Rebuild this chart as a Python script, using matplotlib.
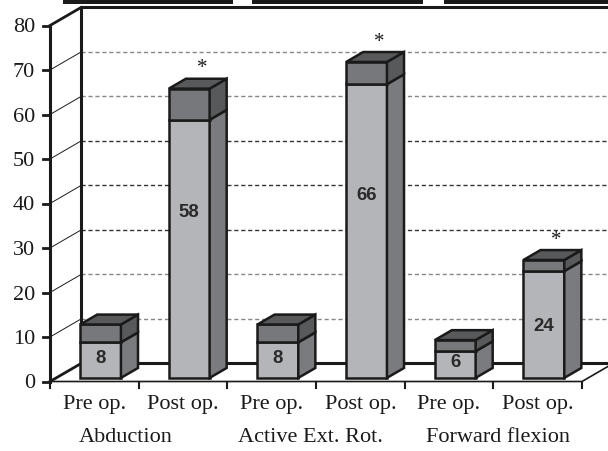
import matplotlib.pyplot as plt
from matplotlib.patches import Polygon, Rectangle

# values read per column: measured value and the darker cap stacked on top
phases = ['Pre op.', 'Post op.', 'Pre op.', 'Post op.', 'Pre op.', 'Post op.']
groups = ['Abduction', 'Active Ext. Rot.', 'Forward flexion']
values = [8, 58, 8, 66, 6, 24]
caps = [4, 7, 4, 5, 2.5, 2.5]
starred = [False, True, False, True, False, True]
yticks = [0, 10, 20, 30, 40, 50, 60, 70, 80]

W, H = 608, 451
X0_PX, CAT_PX = 50, 88.67     # pixel of category 0 and width of one category
Y0_PX, UNIT_PX = 381.5, 4.45  # pixel of value 0 and pixels per unit
DX, DY = 0.35, 4.05           # full depth of the box, in data units
YMAX = 80

LIGHT = '#b4b5b8'
LIGHT_SIDE = '#7a7b7e'
DARK = '#77787b'
DARK_SIDE = '#58595b'
INK = '#1a1a1a'
SERIF = 'Liberation Serif'
# the printed gridlines come out darker in the middle of the wall
grid_color = {10: '#888888', 20: '#888888', 30: '#333333', 40: '#333333',
              50: '#333333', 60: '#888888', 70: '#888888'}
# label height inside each column, as a share of its value
label_pos = [0.55, 0.64, 0.55, 0.62, 0.56, 0.48]


def proj(x, y, d):
    return (x + DX * d, y + DY * d)


def line(ax, pts, **kw):
    xs = [p[0] for p in pts]
    ys = [p[1] for p in pts]
    ax.plot(xs, ys, solid_capstyle='projecting', **kw)


def face(ax, pts, color, z):
    ax.add_patch(Polygon(pts, closed=True, facecolor=color, edgecolor=INK,
                         linewidth=1.8, joinstyle='miter', zorder=z))


def bar(ax, i, base, cap, z):
    x0, x1 = i + 0.5 - 0.23, i + 0.5 + 0.23
    d0, d1 = 0.2, 0.75
    segs = [(0, base, LIGHT, LIGHT_SIDE), (base, base + cap, DARK, DARK_SIDE)]
    for y0, y1, front, side in segs:
        face(ax, [proj(x0, y0, d0), proj(x1, y0, d0), proj(x1, y1, d0), proj(x0, y1, d0)], front, z)
        face(ax, [proj(x1, y0, d0), proj(x1, y0, d1), proj(x1, y1, d1), proj(x1, y1, d0)], side, z)
    top = base + cap
    face(ax, [proj(x0, top, d0), proj(x1, top, d0), proj(x1, top, d1), proj(x0, top, d1)], DARK_SIDE, z)
    cx, cy = proj(i + 0.5, base * label_pos[i], d0)
    ax.text(cx, cy, str(base), ha='center', va='center', fontsize=13.4,
            fontweight='bold', family='Liberation Sans', color='#2a2a2a', zorder=z + 1)
    return proj(i + 0.5, top, d1)


fig = plt.figure(figsize=(W / 100, H / 100), dpi=100)
ax = fig.add_axes([0, 0, 1, 1])
ax.set_xlim(-X0_PX / CAT_PX, (W - X0_PX) / CAT_PX)
ax.set_ylim((Y0_PX - H) / UNIT_PX, Y0_PX / UNIT_PX)
ax.axis('off')

xend = (W - X0_PX) / CAT_PX + 0.1

# back wall gridlines and the side wall diagonals
for v in yticks[1:-1]:
    line(ax, [proj(0, v, 1), proj(xend, v, 1)], color=grid_color[v], lw=1.0,
         dashes=(3, 2), zorder=1)
    line(ax, [proj(0, v, 0), proj(0, v, 1)], color=INK, lw=0.7, zorder=1)

# box edges
line(ax, [proj(0, 0, 1), proj(0, YMAX, 1), proj(xend, YMAX, 1)], color=INK, lw=2.2, zorder=2)
line(ax, [proj(0, 0, 1), proj(xend, 0, 1)], color=INK, lw=2.2, zorder=2)
line(ax, [proj(0, YMAX, 0), proj(0, YMAX, 1)], color=INK, lw=2.0, zorder=2)
line(ax, [proj(0, 0, 0), proj(0, 0, 1)], color=INK, lw=2.0, zorder=2)
line(ax, [proj(0, 0, 0), proj(0, YMAX, 0)], color=INK, lw=2.2, zorder=6)
line(ax, [proj(0, 0, 0), proj(6, 0, 0), proj(6, 0, 1)], color=INK, lw=1.2, zorder=2)

# y axis ticks and labels
for v in yticks:
    ax.plot([0, -7 / CAT_PX], [v, v], color=INK, lw=2.0, zorder=6)
    ax.text(-15 / CAT_PX, v, str(v), ha='right', va='center_baseline', fontsize=16,
            family=SERIF, color=INK)

# category ticks and labels
for i in range(len(phases) + 1):
    ax.plot([i, i], [0, -6 / UNIT_PX], color=INK, lw=1.5)
for i, p in enumerate(phases):
    ax.text(i + 0.5, -27 / UNIT_PX, p, ha='center', va='baseline', fontsize=16,
            family=SERIF, color=INK)
group_x = [0.85, 2.94, 5.05]
for gx, g in zip(group_x, groups):
    ax.text(gx, -60.5 / UNIT_PX, g, ha='center', va='baseline', fontsize=16,
            family=SERIF, color=INK)

# columns
for i in range(len(values)):
    tx, ty = bar(ax, i, values[i], caps[i], 3 + i)
    if starred[i]:
        ax.text(tx - 0.05, ty + 0.1, '*', ha='center', va='bottom', fontsize=15,
                family=SERIF, color=INK, zorder=10)

# strip of the header boxes cut by the top edge
for x0, x1 in [(63, 233), (252, 423), (444, 610)]:
    fig.patches.append(Rectangle((x0 / W, 1 - 3.5 / H), (x1 - x0) / W, 4 / H,
                                 transform=fig.transFigure, facecolor=INK,
                                 edgecolor='none'))

fig.savefig('out.png', dpi=100)
